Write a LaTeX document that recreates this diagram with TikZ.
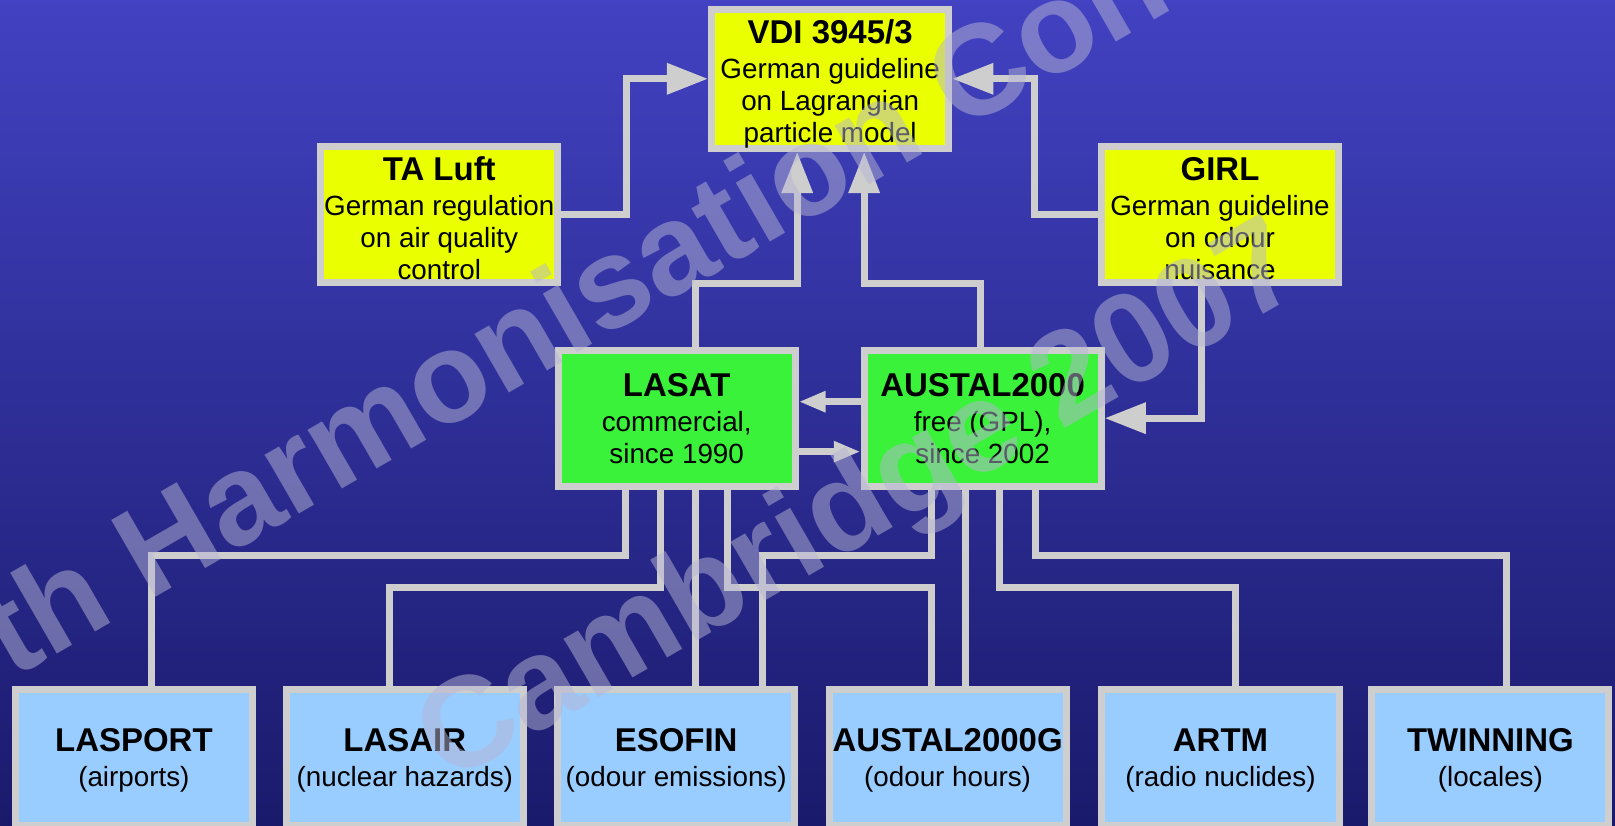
\documentclass[tikz,border=0pt]{standalone}
\usepackage{fontspec}
\setmainfont{Liberation Sans}
\usetikzlibrary{arrows.meta}
\definecolor{bgtop}{RGB}{66,66,194}
\definecolor{bgbot}{RGB}{26,26,108}
\definecolor{framegray}{RGB}{206,206,206}
\definecolor{boxyellow}{RGB}{234,255,0}
\definecolor{boxgreen}{RGB}{58,242,58}
\definecolor{boxblue}{RGB}{153,204,255}
\definecolor{wmcolor}{RGB}{182,182,212}
\newcommand{\boxtitle}[2][0pt]{{\fontsize{32}{31}\selectfont\bfseries\rule{0pt}{#1}#2}}
\begin{document}
\begin{tikzpicture}[x=1pt,y=-1pt,
  box/.style={draw=framegray, line width=6.8pt, inner sep=0pt, align=center, text=black,
    minimum width=230.2pt, minimum height=132.2pt, font=\fontsize{27}{31}\selectfont},
  ybox/.style={box, fill=boxyellow},
  gbox/.style={box, fill=boxgreen},
  bbox/.style={box, fill=boxblue},
  conn/.style={draw=framegray, line width=6.8pt},
  bigarr/.style={conn, -{Triangle[length=40pt,width=29pt]}},
  smallarr/.style={conn, -{Triangle[length=26pt,width=19pt]}},
  wmark/.style={text=wmcolor, text opacity=0.5, inner sep=0pt, rotate=30, anchor=base west,
    font=\fontsize{125}{125}\selectfont\bfseries}
]
\useasboundingbox (0,0) rectangle (1568,801);
\shade[top color=bgtop, bottom color=bgbot] (0,0) rectangle (1568,801);

% boxes
\path
  (806,76.5)    node[ybox] (vdi) {\boxtitle[33.5pt]{VDI 3945/3}\\[3pt]German guideline\\on Lagrangian\\particle model}
  (426.5,208.5) node[ybox] (taluft) {\boxtitle[29.5pt]{TA Luft}\\[3pt]German regulation\\on air quality\\control}
  (1184.5,208.5) node[ybox] (girl) {\boxtitle[29.5pt]{GIRL}\\[3pt]German guideline\\on odour\\nuisance}
  (657,406)     node[gbox] (lasat) {\boxtitle{LASAT}\\[3pt]commercial,\\since 1990}
  (954,406)     node[gbox] (austal) {\boxtitle{AUSTAL2000}\\[3pt]free (GPL),\\since 2002}
  (130,735.2)   node[bbox] (lasport) {\boxtitle[27.5pt]{LASPORT}\\[3pt](airports)}
  (393,735.2)   node[bbox] (lasair) {\boxtitle[27.5pt]{LASAIR}\\[3pt](nuclear hazards)}
  (656.5,735.2) node[bbox] (esofin) {\boxtitle[27.5pt]{ESOFIN}\\[3pt](odour emissions)}
  (920,735.2)   node[bbox] (austalg) {\boxtitle[27.5pt]{AUSTAL2000G}\\[3pt](odour hours)}
  (1185,735.2)  node[bbox] (artm) {\boxtitle[27.5pt]{ARTM}\\[3pt](radio nuclides)}
  (1447,735.2)  node[bbox] (twinning) {\boxtitle[27.5pt]{TWINNING}\\[3pt](locales)};

% connectors
\draw[bigarr] (taluft.east) -| (608,120) |- (vdi.west);
\draw[bigarr] (girl.west) -| (1004,120) |- (vdi.east);
\draw[bigarr] (lasat.north -| 675,0) -- (675,275) -- (774,275) -- (vdi.south -| 774,0);
\draw[bigarr] (austal.north -| 952,0) -- (952,275) -- (839,275) -- (vdi.south -| 839,0);
\draw[bigarr] (girl.south -| 1167,0) |- (austal.east);
\draw[smallarr] (austal.west |- 0,390) -- (lasat.east |- 0,390);
\draw[smallarr] (lasat.east |- 0,438.5) -- (austal.west |- 0,438.5);
\draw[conn] (lasat.south -| 607,0) -- (607,539) -- (147,539) -- (lasport.north -| 147,0);
\draw[conn] (lasat.south -| 641,0) -- (641,570) -- (378,570) -- (lasair.north -| 378,0);
\draw[conn] (lasat.south -| 675,0) -- (esofin.north -| 675,0);
\draw[conn] (lasat.south -| 706,0) -- (706,570) -- (904.5,570) -- (austalg.north -| 904.5,0);
\draw[conn] (austal.south -| 904.5,0) -- (904.5,539) -- (740,539) -- (esofin.north -| 740,0);
\draw[conn] (austal.south -| 937,0) -- (austalg.north -| 937,0);
\draw[conn] (austal.south -| 970,0) -- (970,570) -- (1199.5,570) -- (artm.north -| 1199.5,0);
\draw[conn] (austal.south -| 1005,0) -- (1005,539) -- (1463,539) -- (twinning.north -| 1463,0);

% watermark
\begin{scope}
\clip (0,0) rectangle (1568,801);
\node[wmark] (wmone) at (12,660) {th Harmonisation Con};
\node[wmark] (wmtwo) at (435,762) {Cambridge 2007};
\end{scope}
\end{tikzpicture}
\end{document}
